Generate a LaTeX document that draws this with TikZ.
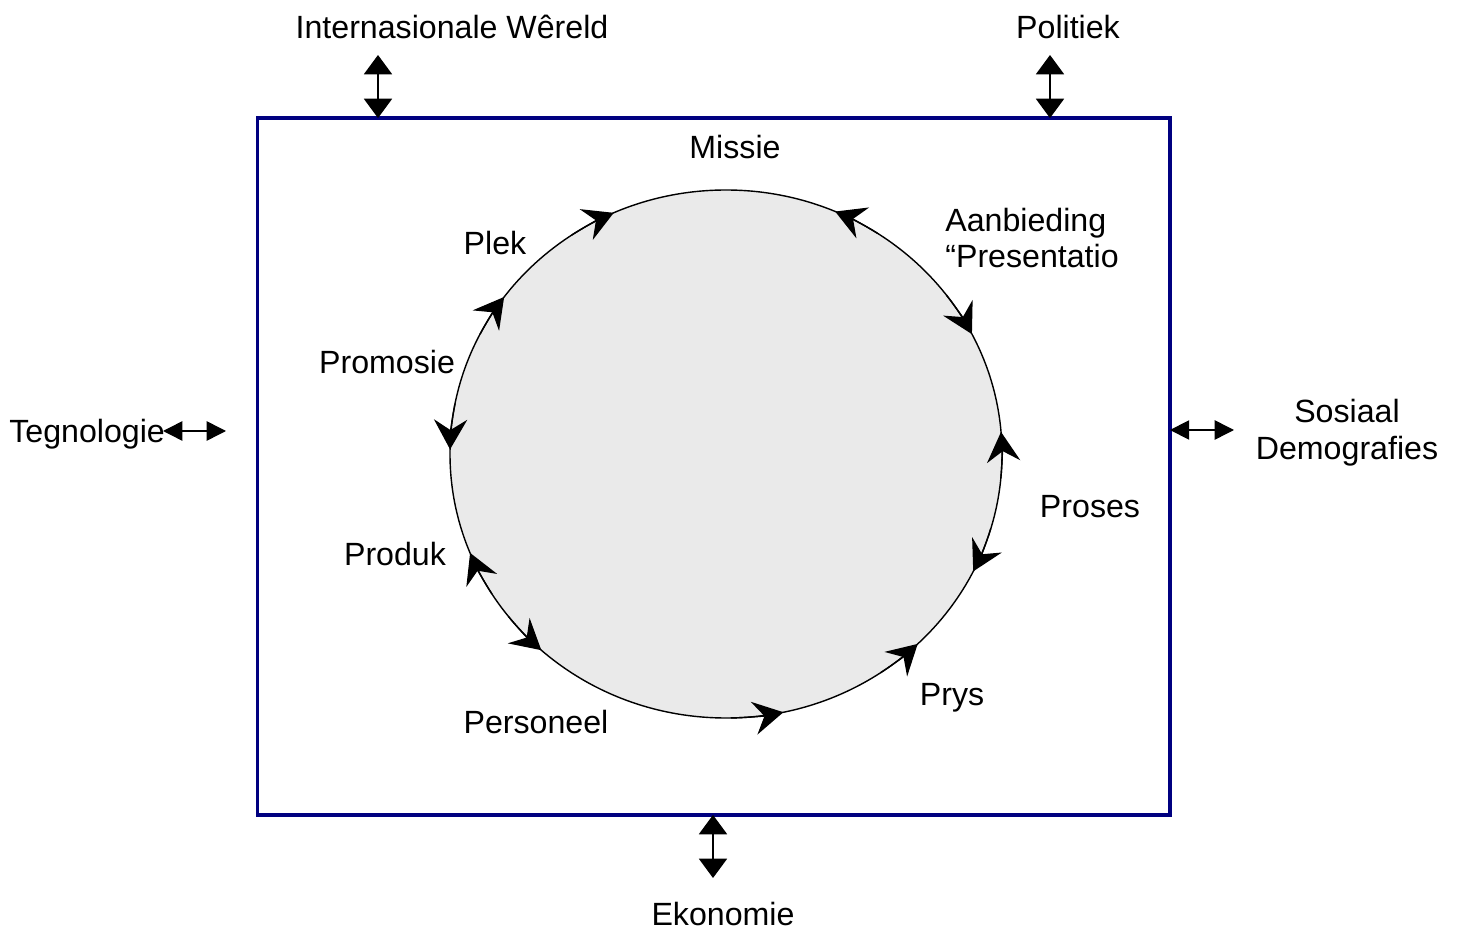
\documentclass[tikz,border=0pt]{standalone}
\usepackage{fontspec}
\setmainfont{Liberation Sans}
\usetikzlibrary{arrows.meta}
\definecolor{boxblue}{RGB}{0,0,128}
\definecolor{wheelgray}{RGB}{234,234,234}

\begin{document}
\begin{tikzpicture}[x=0.02cm,y=0.02cm,
    lbl/.style={font=\fontsize{18.3}{21}\selectfont, inner sep=0pt},
    force/.style={{Triangle[length=11pt,width=16pt]}-{Triangle[length=11pt,width=16pt]}, line width=0.85pt},
    sideforce/.style={{Triangle[length=11pt,width=11pt]}-{Triangle[length=11pt,width=11pt]}, line width=0.85pt},
    turn/.style={-{Stealth[length=17pt,width=19pt,inset=6pt]}, line width=0.8pt}]
        \useasboundingbox (0,0) rectangle (1458,934);
        \node [draw=boxblue, line width=1.8pt, inner sep=0pt, outer sep=0pt,
          minimum width=18.26cm, minimum height=13.94cm] (box) at (713.5,467.5) {};

        % the wheel
        \coordinate (hub) at (726,480);
        \draw [line width=0.8pt,fill=wheelgray] (hub) ellipse (276 and 264);
        \foreach \a/\b in {124/114, 153/143.5, 169/179, 212/202, 218/228, 271/282,
                           304/314, 343.6/333.6, -5.2/4.8, 37/27, 56.7/66.7}
          \draw [turn] ([shift={(\a:276 and 264)}]hub) arc [start angle=\a, end angle=\b, x radius=276, y radius=264];

        \node [lbl] (missie) at (735,787) {Missie};
        \node [lbl, anchor=west, align=left] (aanb) at (945,696) {Aanbieding\\“Presentatio};
        \node [lbl] (plek) at (495,691) {Plek};
        \node [lbl] (promo) at (387,572) {Promosie};
        \node [lbl] (proses) at (1090,427) {Proses};
        \node [lbl] (produk) at (395,380) {Produk};
        \node [lbl] (prys) at (952,236) {Prys};
        \node [lbl] (pers) at (536,212) {Personeel};

        % outside forces
        \node [lbl] (intl) at (452,907) {Internasionale Wêreld};
        \node [lbl] (pol) at (1068,907) {Politiek};
        \node [lbl, anchor=west] (tegno) at (9,500) {Tegnologie};
        \node [lbl, align=center] (sos) at (1347,501.5) {Sosiaal\\Demografies};
        \node [lbl] (eko) at (723,20) {Ekonomie};

        \coordinate (intl-end) at (378,879);
        \coordinate (pol-end) at (1050,879);
        \coordinate (eko-end) at (713,56);
        \coordinate (tegno-a) at (163,503);
        \coordinate (tegno-b) at (226,503);
        \coordinate (sos-end) at (1234,504);
        \draw [force] (intl-end) -- (intl-end |- box.north);
        \draw [force] (pol-end) -- (pol-end |- box.north);
        \draw [force] (eko-end |- box.south) -- (eko-end);
        \draw [sideforce] (tegno-a) -- (tegno-b);
        \draw [sideforce] (sos-end -| box.east) -- (sos-end);
\end{tikzpicture}
\end{document}
